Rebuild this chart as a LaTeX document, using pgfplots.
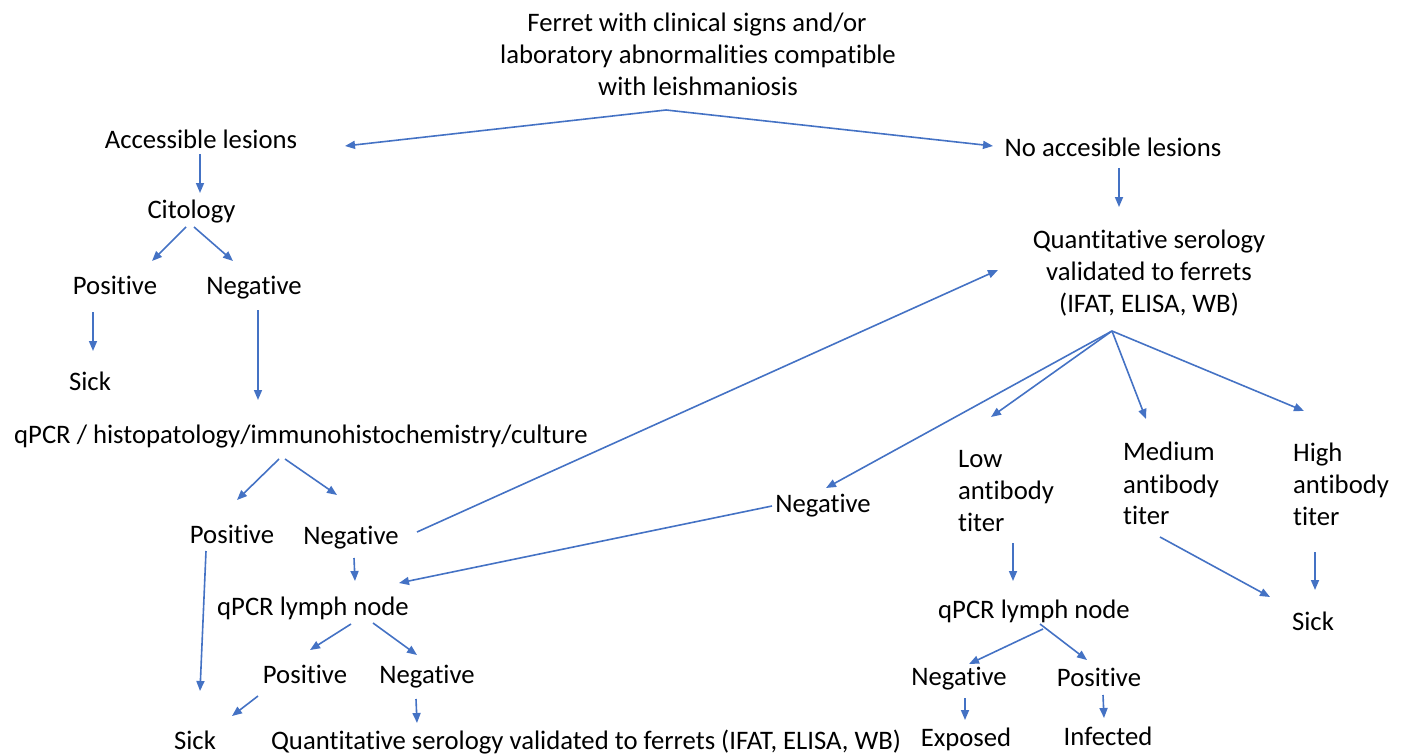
\documentclass[border=0pt]{standalone}
\usepackage{pgfplots}
\pgfplotsset{compat=1.18}
\usepackage{fontspec}
\setmainfont{Carlito}[RawFeature={-liga}]
\usetikzlibrary{arrows.meta}
\definecolor{arrowblue}{HTML}{4472C4}
\begin{document}
\fontsize{26.7bp}{32bp}\selectfont
\begin{tikzpicture}
\path[use as bounding box] (0,0) rectangle (1404bp,754bp);
\begin{axis}[at={(0,0)}, anchor=south west, scale only axis,
  width=1404bp, height=754bp, xmin=0, xmax=1404, ymin=0, ymax=754,
  y dir=reverse, hide axis, clip=false,
  arr/.style={color=arrowblue, line width=1.6bp, -{Triangle[length=10bp,width=8bp]}},
  every node/.append style={inner sep=0pt, outer sep=0pt, font=\fontsize{26.7bp}{32bp}\selectfont}]
% arrows
\addplot[arr] coordinates {(666,110) (345,146)};
\addplot[arr] coordinates {(666,110) (993,146)};
\addplot[arr] coordinates {(200,154) (200,193)};
\addplot[arr] coordinates {(186,227) (152,261)};
\addplot[arr] coordinates {(194,227) (233,261)};
\addplot[arr] coordinates {(93,312) (93,351)};
\addplot[arr] coordinates {(258,310) (258,400)};
\addplot[arr] coordinates {(279,459) (237,500)};
\addplot[arr] coordinates {(285,459) (337,495)};
\addplot[arr] coordinates {(206,551) (200,691)};
\addplot[arr] coordinates {(354,558) (355,581)};
\addplot[arr] coordinates {(417,532) (998,270)};
\addplot[arr] coordinates {(772,506) (399,583)};
\addplot[arr] coordinates {(351,624) (310,650)};
\addplot[arr] coordinates {(373,623) (417,655)};
\addplot[arr] coordinates {(258,696) (232,716)};
\addplot[arr] coordinates {(416,699) (417,723)};
\addplot[arr] coordinates {(1119,168) (1119,207)};
\addplot[arr] coordinates {(1112,331) (826,488)};
\addplot[arr] coordinates {(1112,331) (991,417)};
\addplot[arr] coordinates {(1112,331) (1146,419)};
\addplot[arr] coordinates {(1112,331) (1304,411)};
\addplot[arr] coordinates {(1013,543) (1013,581)};
\addplot[arr] coordinates {(1043,629) (969,664)};
\addplot[arr] coordinates {(1040,624) (1087,660)};
\addplot[arr] coordinates {(1160,537) (1270,597)};
\addplot[arr] coordinates {(1315,552) (1315,590)};
\addplot[arr] coordinates {(965,698) (965,720)};
\addplot[arr] coordinates {(1103,695) (1104,718)};
% text
\node[anchor=base] at (axis cs:697,32) {Ferret with clinical signs and/or};
\node[anchor=base] at (axis cs:698,64) {laboratory abnormalities compatible};
\node[anchor=base] at (axis cs:698,96) {with leishmaniosis};
\node[anchor=base] at (axis cs:201,149) {Accessible lesions};
\node[anchor=base] at (axis cs:1113,157) {No accesible lesions};
\node[anchor=base] at (axis cs:191.5,218) {Citology};
\node[anchor=base] at (axis cs:115,294) {Positive};
\node[anchor=base] at (axis cs:254,294) {Negative};
\node[anchor=base] at (axis cs:90,390) {Sick};
\node[anchor=base] at (axis cs:301,443) {qPCR / histopatology/immunohistochemistry/culture};
\node[anchor=base] at (axis cs:232,543) {Positive};
\node[anchor=base] at (axis cs:351,544) {Negative};
\node[anchor=base] at (axis cs:313,615) {qPCR lymph node};
\node[anchor=base] at (axis cs:305,683) {Positive};
\node[anchor=base] at (axis cs:427,683) {Negative};
\node[anchor=base] at (axis cs:195,749) {Sick};
\node[anchor=base] at (axis cs:586,749) {Quantitative serology validated to ferrets (IFAT, ELISA, WB)};
\node[anchor=base] at (axis cs:1149,248) {Quantitative serology};
\node[anchor=base] at (axis cs:1149,280) {validated to ferrets};
\node[anchor=base] at (axis cs:1149,312) {(IFAT, ELISA, WB)};
\node[anchor=base] at (axis cs:823,512) {Negative};
\node[anchor=base west] at (axis cs:949,467) {Low};
\node[anchor=base west] at (axis cs:949,499) {antibody};
\node[anchor=base west] at (axis cs:949,531) {titer};
\node[anchor=base west] at (axis cs:1114,460) {Medium};
\node[anchor=base west] at (axis cs:1114,493) {antibody};
\node[anchor=base west] at (axis cs:1114,524) {titer};
\node[anchor=base west] at (axis cs:1284,461) {High};
\node[anchor=base west] at (axis cs:1284,493) {antibody};
\node[anchor=base west] at (axis cs:1284,525) {titer};
\node[anchor=base] at (axis cs:1034,618) {qPCR lymph node};
\node[anchor=base] at (axis cs:959,685) {Negative};
\node[anchor=base] at (axis cs:1099,686) {Positive};
\node[anchor=base] at (axis cs:966,746) {Exposed};
\node[anchor=base] at (axis cs:1108,745) {Infected};
\node[anchor=base] at (axis cs:1313,630) {Sick};
\end{axis}
\end{tikzpicture}
\end{document}
